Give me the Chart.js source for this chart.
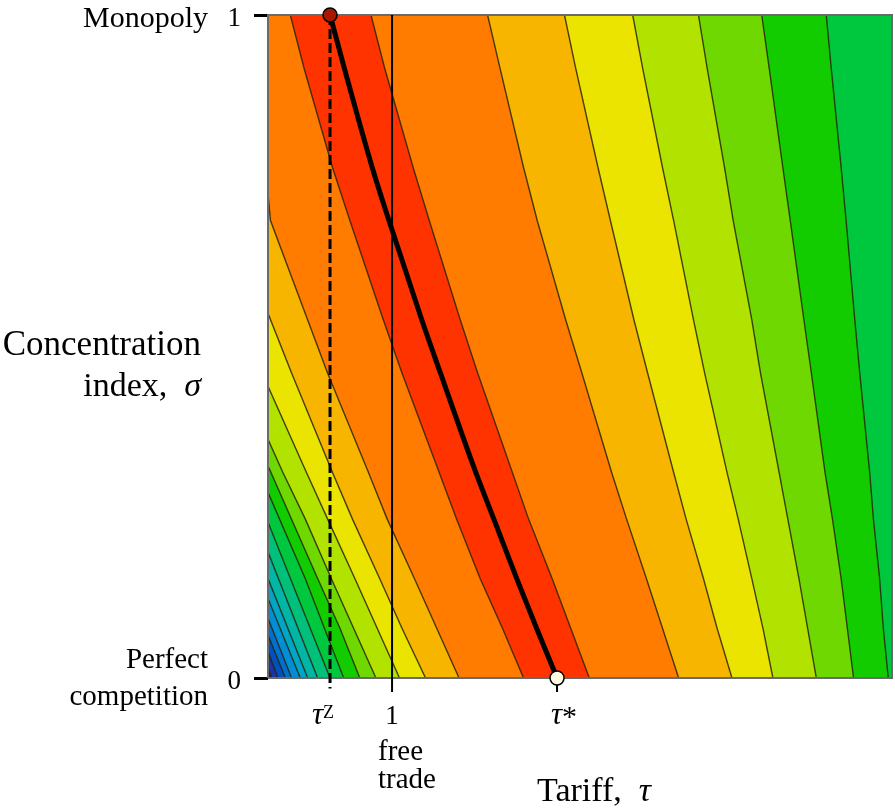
<!DOCTYPE html>
<html>
<head>
<meta charset="utf-8">
<script src="https://cdn.jsdelivr.net/npm/chart.js@4.4.1/dist/chart.umd.min.js"></script>
<style>
html, body { margin: 0; padding: 0; background: #fff; overflow: hidden; }
#contour-canvas { display: block; }
</style>
</head>
<body>
<canvas id="contour-canvas" width="895" height="811"></canvas>
<script>
const SERIF = '"Liberation Serif", "Times New Roman", serif';
const XMAX = 5.03;

const SIGMA = [1, 0.92, 0.77, 0.69, 0.54, 0.46, 0.31, 0.24, 0.15, 0.075, 0];

// right hand contours (tau at each SIGMA level), peak band outwards
const R1 = [0.83, 0.94, 1.17, 1.30, 1.55, 1.69, 1.97, 2.10, 2.29, 2.44, 2.59];
const R2 = [1.77, 1.87, 2.06, 2.17, 2.40, 2.53, 2.77, 2.89, 3.05, 3.18, 3.31];
const R3 = [2.39, 2.48, 2.66, 2.76, 2.95, 3.06, 3.27, 3.37, 3.51, 3.62, 3.74];
const R4 = [2.94, 3.02, 3.18, 3.27, 3.43, 3.52, 3.70, 3.79, 3.90, 3.99, 4.07];
const R5 = [3.47, 3.54, 3.68, 3.75, 3.90, 3.97, 4.12, 4.19, 4.28, 4.35, 4.42];
const R6 = [3.98, 4.04, 4.15, 4.21, 4.32, 4.38, 4.49, 4.55, 4.62, 4.67, 4.72];
const R7 = [4.50, 4.54, 4.62, 4.66, 4.73, 4.77, 4.85, 4.88, 4.93, 4.96, 5.00];

// left hand contours, [tau, sigma] from where they enter down to sigma = 0
const L1 = [[0.18, 1], [0.29, 0.92], [0.52, 0.77], [0.66, 0.69], [0.93, 0.54], [1.08, 0.46],
            [1.38, 0.31], [1.52, 0.24], [1.71, 0.15], [1.89, 0.075], [2.06, 0]];
const L2 = [[0, 0.73], [0.02, 0.69], [0.32, 0.54], [0.48, 0.46], [0.81, 0.31], [0.96, 0.24],
            [1.18, 0.15], [1.36, 0.075], [1.54, 0]];
const L3 = [[0, 0.55], [0.19, 0.46], [0.52, 0.31], [0.68, 0.24], [0.90, 0.15], [1.08, 0.075], [1.27, 0]];
const L4 = [[0, 0.44], [0.31, 0.31], [0.48, 0.24], [0.70, 0.15], [0.88, 0.075], [1.06, 0]];
const L5 = [[0, 0.36], [0.12, 0.31], [0.30, 0.24], [0.51, 0.15], [0.69, 0.075], [0.87, 0]];
const L6 = [[0, 0.32], [0.40, 0.15], [0.58, 0.075], [0.74, 0]];
const L7 = [[0, 0.28], [0.30, 0.15], [0.61, 0]];
const L8 = [[0, 0.235], [0.50, 0]];
const L9 = [[0, 0.19], [0.40, 0]];
const L10 = [[0, 0.15], [0.32, 0]];
const L11 = [[0, 0.12], [0.26, 0]];
const L12 = [[0, 0.09], [0.19, 0]];
const L13 = [[0, 0.065], [0.14, 0]];
const L14 = [[0, 0.04], [0.08, 0]];
const L15 = [[0, 0.015], [0.03, 0]];

// optimal tariff curve
const TAU_OPT = [0.50, 0.615, 0.84, 0.975, 1.24, 1.39, 1.675, 1.82, 2.005, 2.165, 2.33];

const TAU_Z = 0.5;
const TAU_FREE = 1;
const TAU_STAR = 2.33;

// band colours, 0 = highest band
const BAND_COLORS = ['#ff3300', '#ff7c00', '#f7b500', '#ebe300', '#b2e300', '#6fd800', '#12cc00',
    '#00c83e', '#00c07c', '#00b6a6', '#00a6c6', '#008ed6', '#0070d0', '#0050c0', '#1a34a8', '#1c1c8c'];

const LEFT = [L1, L2, L3, L4, L5, L6, L7, L8, L9, L10, L11, L12, L13, L14, L15];
const RIGHT = [R1, R2, R3, R4, R5, R6, R7];

function leftUp(line) {
    const pts = line.slice().reverse().map(p => ({x: p[0], y: p[1]}));
    if (line[0][1] < 1) pts.push({x: 0, y: 1});
    return pts;
}
function rightDown(tau) {
    return tau.map((t, i) => ({x: t, y: SIGMA[i]}));
}

const datasets = [];

// filled bands, painted from lowest to highest
datasets.push({
    data: [{x: 0, y: 0}, {x: 0, y: 1}, {x: XMAX, y: 1}, {x: XMAX, y: 0}],
    backgroundColor: BAND_COLORS[15], fill: 'shape', borderWidth: 0, pointRadius: 0, order: 115
});
for (let k = 14; k >= 0; k--) {
    let pts = leftUp(LEFT[k]);
    if (k < RIGHT.length) {
        pts = pts.concat(rightDown(RIGHT[k]));
    } else {
        pts = pts.concat([{x: XMAX, y: 1}, {x: XMAX, y: 0}]);
    }
    datasets.push({
        data: pts, backgroundColor: BAND_COLORS[k], fill: 'shape',
        borderWidth: 0, pointRadius: 0, order: 100 + k
    });
}

// contour lines
const CONTOUR = 'rgba(40, 36, 12, 0.85)';
LEFT.forEach(line => datasets.push({
    data: line.map(p => ({x: p[0], y: p[1]})),
    borderColor: CONTOUR, borderWidth: 1.4, pointRadius: 0, fill: false, order: 60
}));
RIGHT.forEach(line => datasets.push({
    data: rightDown(line),
    borderColor: CONTOUR, borderWidth: 1.4, pointRadius: 0, fill: false, order: 60
}));

// frame
datasets.push({
    data: [{x: 0, y: 0}, {x: 0, y: 1}, {x: XMAX, y: 1}, {x: XMAX, y: 0}, {x: 0, y: 0}],
    borderColor: '#6a6a6a', borderWidth: 2, pointRadius: 0, fill: false, order: 50, clip: false
});

// tau^Z dashed, free trade and tau* markers
datasets.push({
    data: [{x: TAU_Z, y: 1}, {x: TAU_Z, y: -0.016}],
    borderColor: '#000', borderWidth: 3, borderDash: [10, 4], pointRadius: 0, fill: false, order: 40, clip: false
});
datasets.push({
    data: [{x: TAU_FREE, y: 1}, {x: TAU_FREE, y: -0.021}],
    borderColor: '#000', borderWidth: 2, pointRadius: 0, fill: false, order: 40, clip: false
});
datasets.push({
    data: [{x: TAU_STAR, y: 0}, {x: TAU_STAR, y: -0.021}],
    borderColor: '#000', borderWidth: 2, pointRadius: 0, fill: false, order: 40, clip: false
});

// optimal tariff curve
datasets.push({
    data: TAU_OPT.map((t, i) => ({x: t, y: SIGMA[i]})),
    borderColor: '#000', borderWidth: 5, pointRadius: 0, fill: false,
    cubicInterpolationMode: 'monotone', order: 20, clip: false
});

// end points
datasets.push({
    data: [{x: TAU_Z, y: 1}],
    showLine: false, pointRadius: 7, pointBackgroundColor: '#a81800', pointBorderColor: '#000',
    pointBorderWidth: 1.5, order: 10, clip: false
});
datasets.push({
    data: [{x: TAU_STAR, y: 0}],
    showLine: false, pointRadius: 7, pointBackgroundColor: '#fffbe2', pointBorderColor: '#000',
    pointBorderWidth: 1.5, order: 10, clip: false
});

function drawRuns(ctx, runs, x, y, align) {
    let total = 0;
    runs.forEach(r => { ctx.font = r.font; total += ctx.measureText(r.text).width; });
    let cx = align === 'right' ? x - total : x;
    ctx.textAlign = 'left';
    runs.forEach(r => {
        ctx.font = r.font;
        ctx.fillText(r.text, cx, y + (r.dy || 0));
        cx += ctx.measureText(r.text).width;
    });
}

const labelPlugin = {
    id: 'textLabels',
    afterDraw(chart) {
        const ctx = chart.ctx;
        const xs = chart.scales.x;
        const ys = chart.scales.y;
        const top = ys.getPixelForValue(1);
        const bottom = ys.getPixelForValue(0);
        ctx.save();
        ctx.fillStyle = '#000';
        ctx.textBaseline = 'alphabetic';

        ctx.textAlign = 'right';
        ctx.font = '30px ' + SERIF;
        ctx.fillText('Monopoly', 208, top + 12);
        ctx.font = '29px ' + SERIF;
        ctx.fillText('Perfect', 208, bottom - 10);
        ctx.fillText('competition', 208, bottom + 27);

        ctx.font = '35px ' + SERIF;
        ctx.fillText('Concentration', 201, 355);
        drawRuns(ctx, [
            {text: 'index,  ', font: '34px ' + SERIF},
            {text: 'σ', font: 'italic 34px ' + SERIF}
        ], 201, 396, 'right');

        // x axis labels
        const base = 724;
        const xz = xs.getPixelForValue(TAU_Z);
        ctx.font = 'italic 31px ' + SERIF;
        ctx.textAlign = 'right';
        ctx.fillText('τ', xz - 7, base);
        ctx.textAlign = 'left';
        ctx.font = '18px ' + SERIF;
        ctx.fillText('Z', xz - 7, base - 6);

        ctx.textAlign = 'center';
        ctx.font = '27px ' + SERIF;
        ctx.fillText('1', xs.getPixelForValue(TAU_FREE), base);

        const xstar = xs.getPixelForValue(TAU_STAR);
        ctx.textAlign = 'right';
        ctx.font = 'italic 31px ' + SERIF;
        ctx.fillText('τ', xstar + 5, base);
        ctx.textAlign = 'left';
        ctx.font = '30px ' + SERIF;
        ctx.fillText('*', xstar + 5, base + 2);

        ctx.font = '29px ' + SERIF;
        ctx.fillText('free', 378, 760);
        ctx.fillText('trade', 378, 788);

        drawRuns(ctx, [
            {text: 'Tariff,  ', font: '34px ' + SERIF},
            {text: 'τ', font: 'italic 34px ' + SERIF}
        ], 537, 801, 'left');
        ctx.restore();
    }
};

const ctx = document.querySelector('#contour-canvas').getContext('2d');
const configuration = {
    type: 'line',
    data: { datasets: datasets },
    options: {
        animation: false,
        responsive: false,
        devicePixelRatio: 1,
        layout: { autoPadding: false, padding: { left: 0, top: 15, right: 3, bottom: 133 } },
        scales: {
            x: { type: 'linear', min: 0, max: XMAX, display: false },
            y: {
                type: 'linear', min: 0, max: 1,
                ticks: {
                    stepSize: 1, color: '#000', padding: 13, labelOffset: 4,
                    font: { family: SERIF, size: 27, lineHeight: 1 }
                },
                grid: {
                    drawOnChartArea: false, drawTicks: true, tickLength: 14,
                    tickWidth: 3, tickColor: '#000'
                },
                border: { display: false },
                afterFit(scale) {
                    scale.width = 268;
                    scale.paddingTop = 0;
                    scale.paddingBottom = 0;
                }
            }
        },
        plugins: {
            legend: { display: false },
            tooltip: { enabled: false }
        }
    },
    plugins: [labelPlugin]
};
new Chart(ctx, configuration);
</script>
</body>
</html>
